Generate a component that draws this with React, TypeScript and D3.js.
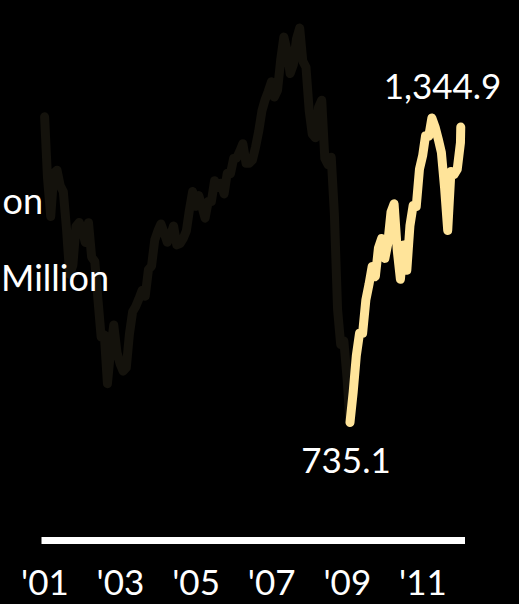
import React from "react";
import * as d3 from "d3";

// S&P 500 month-end closes, Jan 2001 .. Jan 2012, then early Feb 2012
const closes2001 = [1366.01, 1239.94, 1160.33, 1249.46, 1255.82, 1224.38, 1211.23, 1133.58, 1040.94, 1059.78, 1139.45, 1148.08];
const closes2002 = [1130.2, 1106.73, 1147.39, 1076.92, 1067.14, 989.82, 911.62, 916.07, 815.28, 885.76, 936.31, 879.82];
const closes2003 = [855.7, 841.15, 848.18, 916.92, 963.59, 974.5, 990.31, 1008.01, 995.97, 1050.71, 1058.2, 1111.92];
const closes2004 = [1131.13, 1144.94, 1126.21, 1107.3, 1120.68, 1140.84, 1101.72, 1104.24, 1114.58, 1130.2, 1173.82, 1211.92];
const closes2005 = [1181.27, 1203.6, 1180.59, 1156.85, 1191.5, 1191.33, 1234.18, 1220.33, 1228.81, 1207.01, 1249.48, 1248.29];
const closes2006 = [1280.08, 1280.66, 1294.83, 1310.61, 1270.09, 1270.2, 1276.66, 1303.82, 1335.85, 1377.94, 1400.63, 1418.3];
const closes2007 = [1438.24, 1406.82, 1420.86, 1482.37, 1530.62, 1503.35, 1455.27, 1473.99, 1526.75, 1549.38, 1481.14, 1468.36];
const closes2008 = [1378.55, 1330.63, 1322.7, 1385.59, 1400.38, 1280.0, 1267.38, 1282.83, 1166.36, 968.75, 896.24, 903.25];
const closes2009 = [825.88, 735.09, 797.87, 872.81, 919.14, 919.32, 987.48, 1020.62, 1057.08, 1036.19, 1095.63, 1115.1];
const closes2010 = [1073.87, 1104.49, 1169.43, 1186.69, 1089.41, 1030.71, 1101.6, 1049.33, 1141.2, 1183.26, 1180.55, 1257.64];
const closes2011 = [1286.12, 1327.22, 1325.83, 1363.61, 1345.2, 1320.64, 1292.28, 1218.89, 1131.42, 1253.3, 1246.96, 1257.6];
const closes2012 = [1312.41];
const lastValue = 1344.9; // Feb 3, 2012
const yearlyCloses = [closes2001, closes2002, closes2003, closes2004, closes2005, closes2006, closes2007, closes2008, closes2009, closes2010, closes2011, closes2012];
const startYear = 2001;
const highlightStart = { year: 2009, month: 1 }; // Feb 2009 low

const tickYears = [2001, 2003, 2005, 2007, 2009, 2011];
const tickLabels = ["'01", "'03", "'05", "'07", "'09", "'11"];
const lowLabel = "735.1";
const highLabel = "1,344.9";
const sideLabels = ["on", "Million"];

type Pt = { date: Date; value: number };

const points: Pt[] = [];
yearlyCloses.forEach((arr, yi) => {
  arr.forEach((v, m) => {
    points.push({ date: new Date(startYear + yi, m + 1, 0), value: v });
  });
});
points.push({ date: new Date(2012, 1, 3), value: lastValue });

const splitIdx = (highlightStart.year - startYear) * 12 + highlightStart.month;
const darkPts = points.slice(0, splitIdx + 1);
const brightPts = points.slice(splitIdx);

const W = 519;
const H = 604;
const FONT = "Lato, 'Open Sans', sans-serif";

export default function App() {
  const x = d3
    .scaleTime()
    .domain([new Date(2001, 0, 1), new Date(2012, 2, 15)])
    .range([41.5, 465]);
  const y = d3.scaleLinear().domain([700, 1600]).range([439.5, 3.5]);

  const line = d3
    .line<Pt>()
    .x((d) => x(d.date))
    .y((d) => y(d.value))
    .curve(d3.curveLinear);

  const axisY = 540.5;

  return (
    <svg
      width={W}
      height={H}
      style={{ position: "fixed", left: 0, top: 0, background: "#000" }}
    >
      <rect x={0} y={0} width={W} height={H} fill="#000" />
      <path
        d={line(darkPts) || ""}
        fill="none"
        stroke="#14120c"
        strokeWidth={9}
        strokeLinejoin="round"
        strokeLinecap="round"
      />
      <path
        d={line(brightPts) || ""}
        fill="none"
        stroke="#FFE49A"
        strokeWidth={9}
        strokeLinejoin="round"
        strokeLinecap="round"
      />
      <text x={43} y={214} fill="#fff" fontFamily={FONT} fontSize={36} textAnchor="end">
        {sideLabels[0]}
      </text>
      <text x={109} y={291} fill="#fff" fontFamily={FONT} fontSize={36} textAnchor="end">
        {sideLabels[1]}
      </text>
      <text x={346} y={473} fill="#fff" fontFamily={FONT} fontSize={35} textAnchor="middle">
        {lowLabel}
      </text>
      <text x={442.5} y={98.5} fill="#fff" fontFamily={FONT} fontSize={35} textAnchor="middle">
        {highLabel}
      </text>
      <line
        x1={x.range()[0]}
        x2={x.range()[1]}
        y1={axisY}
        y2={axisY}
        stroke="#fff"
        strokeWidth={7}
      />
      {tickYears.map((yr, i) => (
        <text
          key={yr}
          x={x(new Date(yr, 0, 1)) - 20.5}
          y={595}
          fill="#fff"
          fontFamily={FONT}
          fontSize={35}
          textAnchor="start"
        >
          {tickLabels[i]}
        </text>
      ))}
    </svg>
  );
}
